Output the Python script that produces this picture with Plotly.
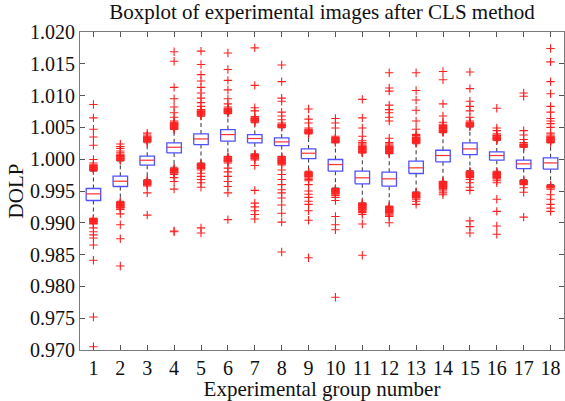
import plotly.graph_objects as go

groups = list(range(1, 19))
q1 = [0.99351, 0.99571, 0.99906, 1.00099, 1.00230, 1.00283, 1.00257, 1.00215, 1.00010,
      0.99812, 0.99613, 0.99576, 0.99775, 0.99958, 1.00073, 0.99984, 0.99853, 0.99843]
med = [0.99455, 0.99654, 0.99984, 1.00188, 1.00319, 1.00387, 1.00325, 1.00272, 1.00094,
       0.99916, 0.99707, 0.99691, 0.99864, 1.00058, 1.00162, 1.00058, 0.99927, 0.99942]
q3 = [0.99539, 0.99733, 1.00047, 1.00257, 1.00398, 1.00466, 1.00387, 1.00335, 1.00162,
      0.99995, 0.99812, 0.99796, 0.99969, 1.00141, 1.00257, 1.00115, 0.99984, 1.00021]
whisk_lo = [0.99070, 0.99340, 0.99681, 0.99874, 0.99942, 1.00047, 1.00084, 1.00047, 0.99812,
            0.99550, 0.99314, 0.99262, 0.99487, 0.99654, 0.99822, 0.99812, 0.99681, 0.99602]
whisk_hi = [0.99810, 0.99969, 1.00257, 1.00466, 1.00675, 1.00712, 1.00571, 1.00492, 1.00398,
            1.00257, 1.00099, 1.00084, 1.00241, 1.00414, 1.00503, 1.00293, 1.00188, 1.00257]

outliers_hi = [
    [0.9982,0.9983,0.9984,0.9985,0.9986,0.9987,0.9988,0.9989,0.9990,0.9991,0.9994,0.99995,1.0022,1.0035,1.0047,1.0065,1.0086],
    [0.9998,0.9999,1.0000,1.0001,1.0002,1.0003,1.0004,1.0005,1.0006,1.0007,1.0010,1.0013,1.0017,1.0020,1.0024],
    [1.0027,1.0028,1.0029,1.0030,1.0031,1.0032,1.0033,1.0034,1.0035,1.0036,1.0038,1.0041],
    [1.0047,1.0048,1.0049,1.0050,1.0051,1.0052,1.0053,1.0054,1.0055,1.0056,1.0057,1.0058,1.0060,1.0066,1.0073,1.0082,1.0095,1.0113,1.0154,1.0169],
    [1.0068,1.0069,1.0070,1.0071,1.0072,1.0073,1.0074,1.0075,1.0076,1.0078,1.0083,1.0089,1.0096,1.0104,1.0113,1.0123,1.0133,1.0149,1.0170],
    [1.0072,1.0073,1.0074,1.0075,1.0076,1.0077,1.0078,1.0079,1.0080,1.0082,1.0087,1.0095,1.0109,1.0124,1.0141,1.0167],
    [1.0058,1.0059,1.0060,1.0061,1.0062,1.0063,1.0064,1.0065,1.0067,1.0076,1.0081,1.0116,1.0175],
    [1.0050,1.0051,1.0052,1.0053,1.0054,1.0055,1.0057,1.0062,1.0068,1.0074,1.0091,1.0096,1.0122,1.0148],
    [1.0040,1.0041,1.0042,1.0043,1.0044,1.0045,1.0046,1.0047,1.0049,1.0057,1.0063,1.0079],
    [1.0026,1.0027,1.0028,1.0029,1.0030,1.0031,1.0032,1.0033,1.0034,1.0036,1.0049,1.0057,1.0064],
    [1.0010,1.0011,1.0012,1.0013,1.0014,1.0015,1.0016,1.0017,1.0018,1.0019,1.0020,1.0022,1.0024,1.0026,1.0029,1.0036,1.0049,1.0065,1.0094],
    [1.0009,1.0010,1.0011,1.0012,1.0013,1.0014,1.0015,1.0016,1.0017,1.0018,1.0019,1.0020,1.0022,1.0024,1.0026,1.0033,1.0060,1.0066,1.0073,1.0078,1.0085,1.0107,1.0112,1.0136],
    [1.0025,1.0026,1.0027,1.0028,1.0029,1.0030,1.0031,1.0032,1.0033,1.0034,1.0035,1.0037,1.0039,1.0047,1.0060,1.0077,1.0093,1.0108,1.0136],
    [1.0042,1.0043,1.0044,1.0045,1.0046,1.0047,1.0048,1.0049,1.0050,1.0051,1.0052,1.0053,1.0055,1.0058,1.0068,1.0087,1.0125,1.0138],
    [1.0051,1.0052,1.0053,1.0054,1.0055,1.0056,1.0057,1.0058,1.0060,1.0066,1.0076,1.0083,1.0091,1.0111,1.0137],
    [1.0030,1.0031,1.0032,1.0033,1.0034,1.0035,1.0036,1.0037,1.0038,1.0040,1.0045,1.0049,1.0080],
    [1.0019,1.0020,1.0021,1.0022,1.0023,1.0024,1.0026,1.0031,1.0038,1.0045,1.0099,1.0104],
    [1.0026,1.0027,1.0028,1.0029,1.0030,1.0031,1.0032,1.0033,1.0034,1.0035,1.0036,1.0038,1.0041,1.0050,1.0056,1.0060,1.0064,1.0074,1.0083,1.0103,1.0122,1.0153,1.0174],
]
outliers_lo = [
    [0.9907,0.9906,0.9905,0.9904,0.9903,0.9902,0.9901,0.9900,0.9899,0.9898,0.9892,0.9886,0.9881,0.9876,0.9865,0.9841,0.9752,0.9705],
    [0.9933,0.9932,0.9931,0.9930,0.9929,0.9928,0.9927,0.9926,0.9925,0.9924,0.9923,0.9921,0.9914,0.9897,0.9875,0.9832],
    [0.9967,0.9966,0.9965,0.9964,0.9963,0.9962,0.9961,0.9960,0.9958,0.9947,0.9912],
    [0.9986,0.9985,0.9984,0.9983,0.9982,0.9981,0.9980,0.9979,0.9978,0.9976,0.9971,0.9965,0.9953,0.9887,0.9886],
    [0.9993,0.9992,0.9991,0.9990,0.9989,0.9988,0.9987,0.9986,0.9985,0.9983,0.9978,0.9973,0.9968,0.9963,0.9956,0.9892,0.9884],
    [1.0004,1.0003,1.0002,1.0001,1.0000,0.9999,0.9998,0.9997,0.9996,0.9994,0.9986,0.9980,0.9973,0.9965,0.9957,0.9947,0.9905],
    [1.0008,1.0007,1.0006,1.0005,1.0004,1.0003,1.0002,1.0001,0.9999,0.9990,0.9951,0.9931,0.9925,0.9919,0.9913,0.9906],
    [1.0004,1.0003,1.0002,1.0001,1.0000,0.9999,0.9998,0.9997,0.9996,0.9995,0.9993,0.9991,0.9983,0.9976,0.9968,0.9960,0.9952,0.9947,0.9939,0.9928,0.9915,0.9901,0.9854],
    [0.9980,0.9979,0.9978,0.9977,0.9976,0.9975,0.9974,0.9973,0.9972,0.9970,0.9968,0.9966,0.9960,0.9950,0.9945,0.9940,0.9934,0.9929,0.9919,0.9904,0.9845],
    [0.9954,0.9953,0.9952,0.9951,0.9950,0.9949,0.9948,0.9947,0.9946,0.9945,0.9943,0.9940,0.9935,0.9910,0.9897,0.9889,0.9783],
    [0.9931,0.9930,0.9929,0.9928,0.9927,0.9926,0.9925,0.9924,0.9923,0.9922,0.9921,0.9920,0.9918,0.9916,0.9913,0.9898,0.9849],
    [0.9926,0.9925,0.9924,0.9923,0.9922,0.9921,0.9920,0.9919,0.9918,0.9917,0.9916,0.9914,0.9912,0.9910,0.9900],
    [0.9948,0.9947,0.9946,0.9945,0.9944,0.9943,0.9942,0.9941,0.9940,0.9939,0.9937,0.9934,0.9929],
    [0.9965,0.9964,0.9963,0.9962,0.9961,0.9960,0.9959,0.9958,0.9957,0.9956,0.9955,0.9954,0.9952,0.9950,0.9947,0.9944],
    [0.9981,0.9980,0.9979,0.9978,0.9977,0.9976,0.9975,0.9974,0.9973,0.9971,0.9968,0.9963,0.9956,0.9951,0.9903,0.9894,0.9884],
    [0.9980,0.9979,0.9978,0.9977,0.9976,0.9975,0.9974,0.9973,0.9972,0.9971,0.9969,0.9966,0.9963,0.9937,0.9918,0.9895,0.9882],
    [0.9967,0.9966,0.9965,0.9964,0.9963,0.9962,0.9960,0.9955,0.9948,0.9909],
    [0.9959,0.9958,0.9957,0.9956,0.9955,0.9953,0.9944,0.9937,0.9929,0.9923,0.9918],
]

y_ticks = [0.970, 0.975, 0.980, 0.985, 0.990, 0.995, 1.000, 1.005, 1.010, 1.015, 1.020]

HALF = 0.27   # half box width (x units)
CAP = 0.13

FONT = "Liberation Serif, Times New Roman, serif"

fig = go.Figure()

# whiskers (dashed)
wx, wy = [], []
for g, a, b, lo, hi in zip(groups, q1, q3, whisk_lo, whisk_hi):
    wx += [g, g, None, g, g, None]
    wy += [b, hi, None, a, lo, None]
fig.add_trace(go.Scatter(x=wx, y=wy, mode="lines",
                         line=dict(color="#444444", width=1.1, dash="4px,3px"),
                         hoverinfo="skip", showlegend=False))
# caps
cx, cy = [], []
for g, lo, hi in zip(groups, whisk_lo, whisk_hi):
    cx += [g - CAP, g + CAP, None, g - CAP, g + CAP, None]
    cy += [hi, hi, None, lo, lo, None]
fig.add_trace(go.Scatter(x=cx, y=cy, mode="lines",
                         line=dict(color="#666666", width=1),
                         hoverinfo="skip", showlegend=False))

# outliers
ox, oy = [], []
for g, hs, ls in zip(groups, outliers_hi, outliers_lo):
    for v in hs + ls:
        ox.append(g)
        oy.append(v)
fig.add_trace(go.Scatter(x=ox, y=oy, mode="markers",
                         marker=dict(symbol="cross-thin", size=6,
                                     line=dict(color="#ff2020", width=1.1)),
                         hoverinfo="skip", showlegend=False))

# boxes
bx, by = [], []
for g, a, b in zip(groups, q1, q3):
    bx += [g - HALF, g + HALF, g + HALF, g - HALF, g - HALF, None]
    by += [a, a, b, b, a, None]
fig.add_trace(go.Scatter(x=bx, y=by, mode="lines", fill="toself", fillcolor="white",
                         line=dict(color="#5050ff", width=1.3),
                         hoverinfo="skip", showlegend=False))
# medians
mx, my = [], []
for g, m in zip(groups, med):
    mx += [g - HALF, g + HALF, None]
    my += [m, m, None]
fig.add_trace(go.Scatter(x=mx, y=my, mode="lines",
                         line=dict(color="#ff3030", width=1.2),
                         hoverinfo="skip", showlegend=False))

axis_common = dict(showline=True, linecolor="#7a7a7a", linewidth=1, mirror="ticks",
                   ticks="inside", ticklen=5, tickcolor="#555555", showgrid=False,
                   zeroline=False, tickfont=dict(family=FONT, size=20, color="#111111"))

fig.update_layout(
    width=565, height=401,
    margin=dict(l=80, r=1, t=32, b=51),
    paper_bgcolor="white", plot_bgcolor="white",
    title=dict(text="Boxplot of experimental images after CLS method",
               font=dict(family=FONT, size=21, color="#111111"),
               x=0.5, xref="paper", xanchor="center", y=1 - 4 / 401, yanchor="top"),
    xaxis=dict(range=[0.5, 18.5], tickvals=groups, ticktext=[str(g) for g in groups],
               title=dict(text="Experimental group number",
                          font=dict(family=FONT, size=21, color="#111111"), standoff=0),
               **axis_common),
    yaxis=dict(range=[0.970, 1.020], tickvals=y_ticks,
               ticktext=["%.3f" % v for v in y_ticks],
               title=dict(text="DOLP", font=dict(family=FONT, size=21, color="#111111"),
                          standoff=0),
               **axis_common),
)

fig.write_html("out.html")
